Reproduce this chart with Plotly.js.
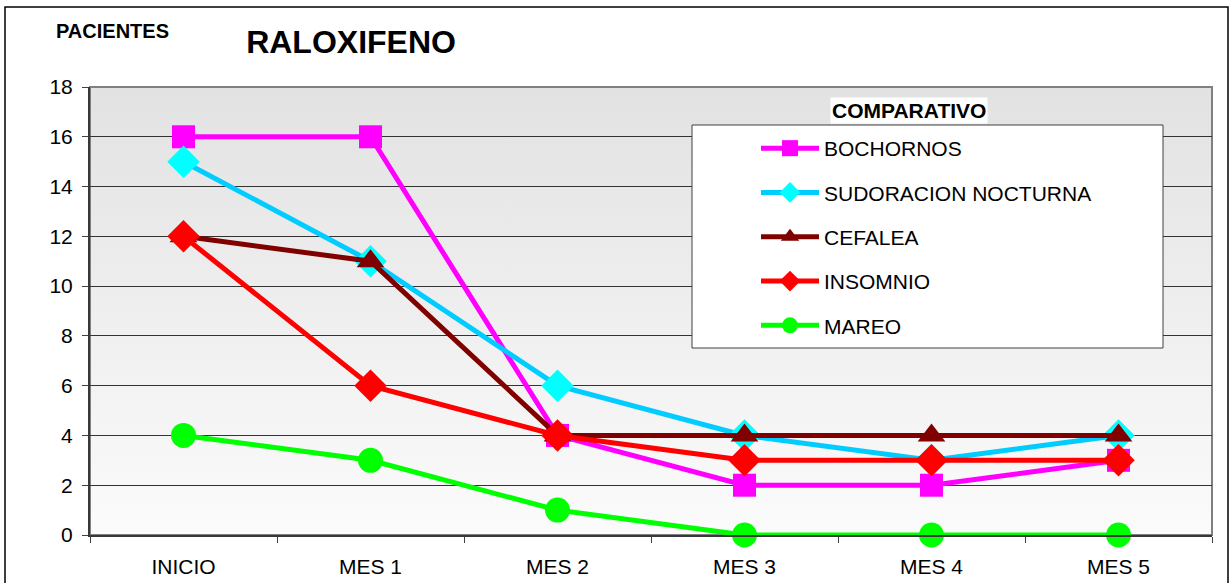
<!DOCTYPE html>
<html>
<head>
<meta charset="utf-8">
<script src="https://cdn.plot.ly/plotly-3.0.1.min.js"></script>
<style>
  html, body { margin: 0; padding: 0; background: #ffffff; }
  #chart { width: 1230px; height: 583px; }
</style>
</head>
<body>
<div id="chart"></div>
<script>
// Categories (months of follow-up)
const categories = ['INICIO', 'MES 1', 'MES 2', 'MES 3', 'MES 4', 'MES 5'];

// Number of patients per symptom
const bochornos  = [16, 16, 4, 2, 2, 3];
const sudoracion = [15, 11, 6, 4, 3, 4];
const cefalea    = [12, 11, 4, 4, 4, 4];
const insomnio   = [12, 6, 4, 3, 3, 3];
const mareo      = [4, 3, 1, 0, 0, 0];

const yTicks = [0, 2, 4, 6, 8, 10, 12, 14, 16, 18];

function series(name, values, lineColor, markerColor, symbol, size, group) {
  return {
    type: 'scatter',
    mode: 'lines+markers',
    name: name,
    x: categories,
    y: values,
    legendgroup: group,
    cliponaxis: false,
    line: { color: lineColor, width: 5 },
    marker: { color: markerColor, symbol: symbol, size: size, line: { width: 0 } }
  };
}

const traces = [
  series('BOCHORNOS', bochornos, '#FF00FF', '#FF00FF', 'square', 23, 'g1'),
  series('SUDORACION NOCTURNA', sudoracion, '#00CCFF', '#00FFFF', 'diamond', 25, 'g2'),
  series('CEFALEA', cefalea, '#800000', '#800000', 'triangle-up', 24, 'g3'),
  series('INSOMNIO', insomnio, '#FF0000', '#FF0000', 'diamond', 25, 'g4'),
  series('MAREO', mareo, '#00FF00', '#00FF00', 'circle', 25, 'g5')
];

// Vertical grey-to-white wash behind the plot area
const gradSvg =
  '<svg xmlns="http://www.w3.org/2000/svg" width="100" height="100" preserveAspectRatio="none">' +
  '<defs><linearGradient id="g" x1="0" y1="0" x2="0" y2="1">' +
  '<stop offset="0" stop-color="#e2e2e2"/><stop offset="1" stop-color="#fbfbfb"/>' +
  '</linearGradient></defs><rect width="100" height="100" fill="url(#g)"/></svg>';

const font = 'Liberation Sans, Arial, sans-serif';

const layout = {
  width: 1230,
  height: 583,
  margin: { l: 90, r: 18, t: 87, b: 48 },
  paper_bgcolor: '#ffffff',
  plot_bgcolor: 'rgba(0,0,0,0)',
  font: { family: font, color: '#000000' },
  showlegend: true,
  title: {
    text: '<b>RALOXIFENO</b>',
    font: { family: font, size: 32, color: '#000000' },
    x: 0.2854, xref: 'container', xanchor: 'center',
    y: 0.928, yref: 'container', yanchor: 'middle'
  },
  xaxis: {
    type: 'category',
    range: [-0.5, 5.5],
    tickson: 'boundaries',
    ticks: 'outside',
    ticklen: 6,
    tickcolor: '#404040',
    ticklabelstandoff: 12,
    showline: true,
    linecolor: '#383838',
    linewidth: 2,
    showgrid: false,
    zeroline: false,
    tickfont: { family: font, size: 21, color: '#000000' },
    fixedrange: true
  },
  yaxis: {
    range: [0, 18],
    tickvals: yTicks,
    ticks: 'outside',
    ticklen: 6,
    tickcolor: '#404040',
    ticklabelstandoff: 5,
    showline: true,
    linecolor: '#383838',
    linewidth: 2,
    showgrid: true,
    gridcolor: '#333333',
    gridwidth: 1,
    zeroline: false,
    tickfont: { family: font, size: 21, color: '#000000' },
    fixedrange: true
  },
  legend: {
    x: (756 - 90) / 1122, xanchor: 'left',
    y: 1 - (128 - 87) / 448, yanchor: 'top',
    bgcolor: 'rgba(0,0,0,0)',
    borderwidth: 0,
    itemwidth: 58,
    tracegroupgap: 14,
    font: { family: font, size: 21, color: '#000000' }
  },
  images: [{
    source: 'data:image/svg+xml;charset=utf-8,' + encodeURIComponent(gradSvg),
    xref: 'paper', yref: 'paper',
    x: 0, y: 1, sizex: 1, sizey: 1,
    xanchor: 'left', yanchor: 'top',
    sizing: 'stretch',
    layer: 'below'
  }],
  shapes: [
    // plot area frame (top and right edges)
    { type: 'rect', xref: 'paper', yref: 'paper', x0: 0, x1: 1, y0: 0, y1: 1,
      line: { color: '#808080', width: 2 }, layer: 'below' },
    // legend box
    { type: 'rect', xref: 'paper', yref: 'paper',
      x0: (692 - 90) / 1122, x1: (1163 - 90) / 1122,
      y0: 1 - (348 - 87) / 448, y1: 1 - (125 - 87) / 448,
      fillcolor: '#ffffff', line: { color: '#404040', width: 1 }, layer: 'above' },
    // outer chart border
    { type: 'rect', xref: 'paper', yref: 'paper',
      x0: (5 - 90) / 1122, x1: (1228 - 90) / 1122,
      y0: 1 - (600 - 87) / 448, y1: 1 - (7 - 87) / 448,
      line: { color: '#000000', width: 1.5 }, layer: 'above' }
  ],
  annotations: [
    { text: '<b>PACIENTES</b>', xref: 'paper', yref: 'paper',
      x: (112 - 90) / 1122, y: 1 - (31 - 87) / 448,
      xanchor: 'center', yanchor: 'middle', showarrow: false,
      font: { family: font, size: 20, color: '#000000' } },
    { text: '<b>COMPARATIVO</b>', xref: 'paper', yref: 'paper',
      x: (909 - 90) / 1122, y: 1 - (110 - 87) / 448,
      xanchor: 'center', yanchor: 'middle', showarrow: false,
      bgcolor: '#ffffff', borderpad: 1,
      font: { family: font, size: 21, color: '#000000' } }
  ]
};

Plotly.newPlot('chart', traces, layout, { staticPlot: true, displayModeBar: false });
</script>
</body>
</html>
